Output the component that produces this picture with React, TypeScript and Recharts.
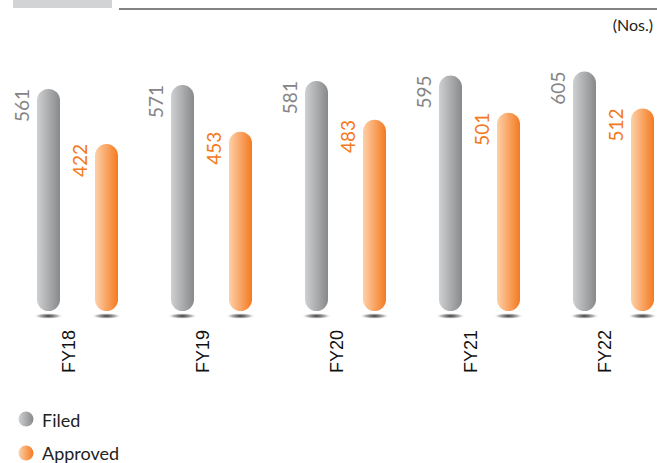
import { BarChart, Bar, XAxis, YAxis } from "recharts";

const years = ["FY18", "FY19", "FY20", "FY21", "FY22"];
const filed = [561, 571, 581, 595, 605];
const approved = [422, 453, 483, 501, 512];
const seriesNames = ["Filed", "Approved"];
const unitLabel = "(Nos.)";

const data = years.map((year, i) => ({
  year,
  filed: filed[i],
  approved: approved[i],
}));

const gradients = [
  { id: "gFiled", from: "#cfd0d2", to: "#88898b", text: "#858585" },
  { id: "gApproved", from: "#fdd0a9", to: "#f47a20", text: "#f47920" },
];

interface PillProps {
  x?: number;
  y?: number;
  width?: number;
  height?: number;
  payload?: Record<string, number>;
  dataKey: string;
  gradId: string;
  textColor: string;
}

function PillBar({ x = 0, y = 0, width = 0, height = 0, payload, dataKey, gradId, textColor }: PillProps) {
  const v = payload ? payload[dataKey] : "";
  const cx = x + width / 2;
  const lx = x - 8;
  return (
    <g>
      <ellipse cx={cx} cy={y + height + 5} rx={15} ry={3} fill="url(#gShadow)" />
      <rect x={x} y={y} width={width} height={height} rx={width / 2} ry={width / 2} fill={`url(#${gradId})`} />
      <text
        x={lx}
        y={y}
        transform={`rotate(-90 ${lx} ${y})`}
        textAnchor="end"
        fontFamily="Lato, sans-serif"
        fontSize={19}
        fill={textColor}
      >
        {v}
      </text>
    </g>
  );
}

function YearTick(props: any) {
  const { x, y, payload } = props;
  const tx = x - 2;
  const ty = y + 11;
  return (
    <text
      x={tx}
      y={ty}
      transform={`rotate(-90 ${tx} ${ty})`}
      textAnchor="end"
      fontFamily="'Liberation Sans', Arial, sans-serif"
      fontSize={18}
      fill="#111"
    >
      {payload.value}
    </text>
  );
}

export default function App() {
  return (
    <div
      style={{
        position: "absolute",
        left: 0,
        top: 0,
        width: 657,
        height: 463,
        overflow: "hidden",
        background: "#fff",
      }}
    >
      <svg width={657} height={463} style={{ position: "absolute", left: 0, top: 0 }}>
        <defs>
          {gradients.map((g) => (
            <linearGradient key={g.id} id={`${g.id}L`} x1="0" y1="0" x2="1" y2="0">
              <stop offset="0%" stopColor={g.from} />
              <stop offset="100%" stopColor={g.to} />
            </linearGradient>
          ))}
        </defs>
        <rect x={13} y={0} width={99} height={8} fill="#d1d3d4" />
        <line x1={119} y1={9} x2={657} y2={9} stroke="#5a5a5a" strokeWidth={1.5} />
        <text x={653} y={31} textAnchor="end" fontFamily="Lato, sans-serif" fontSize={16} fill="#222">
          {unitLabel}
        </text>
        {seriesNames.map((name, i) => (
          <g key={name}>
            <circle cx={26} cy={419 + i * 34} r={7.5} fill={`url(#${gradients[i].id}L)`} />
            <text x={42} y={427 + i * 33} fontFamily="Lato, sans-serif" fontSize={18} fill="#222">
              {name}
            </text>
          </g>
        ))}
      </svg>
      <div style={{ position: "absolute", left: 0, top: 0 }}>
        <BarChart
          width={680}
          height={463}
          data={data}
          margin={{ top: 34, right: 0, left: 10, bottom: 122 }}
          barSize={23}
          barGap={35}
          barCategoryGap={0}
        >
          <defs>
            {gradients.map((g) => (
              <linearGradient key={g.id} id={g.id} x1="0" y1="0" x2="1" y2="0">
                <stop offset="0%" stopColor={g.from} />
                <stop offset="100%" stopColor={g.to} />
              </linearGradient>
            ))}
            <radialGradient id="gShadow" cx="0.5" cy="0.5" r="0.5">
              <stop offset="0%" stopColor="#222" stopOpacity={0.95} />
              <stop offset="60%" stopColor="#666" stopOpacity={0.5} />
              <stop offset="100%" stopColor="#fff" stopOpacity={0} />
            </radialGradient>
          </defs>
          <XAxis
            dataKey="year"
            axisLine={false}
            tickLine={false}
            height={30}
            interval={0}
            tick={<YearTick />}
          />
          <YAxis hide domain={[0, 700]} />
          <Bar
            dataKey="filed"
            isAnimationActive={false}
            shape={(p: any) => (
              <PillBar {...p} dataKey="filed" gradId={gradients[0].id} textColor={gradients[0].text} />
            )}
          />
          <Bar
            dataKey="approved"
            isAnimationActive={false}
            shape={(p: any) => (
              <PillBar {...p} dataKey="approved" gradId={gradients[1].id} textColor={gradients[1].text} />
            )}
          />
        </BarChart>
      </div>
    </div>
  );
}
